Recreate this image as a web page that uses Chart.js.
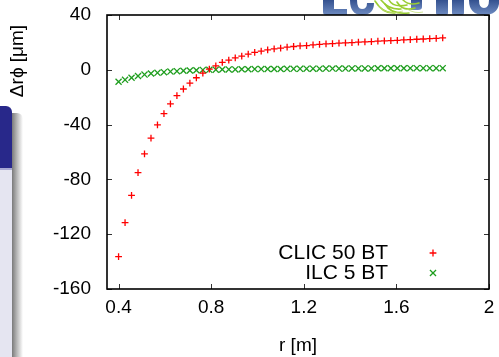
<!DOCTYPE html>
<html>
<head>
<meta charset="utf-8">
<script src="https://cdn.jsdelivr.net/npm/chart.js@4/dist/chart.umd.min.js"></script>
<style>
  html, body { margin: 0; padding: 0; background: #fff; }
  #wrap { position: relative; width: 499px; height: 357px; overflow: hidden; background: #fff; }
  #wrap canvas { position: absolute; left: 0; top: 0; }
  .bar { position: absolute; left: 0; top: 106px; width: 12px; height: 62px; background: #28288a; border-top-right-radius: 6px; }
  .bar-edge { position: absolute; left: 0; top: 168px; width: 12px; height: 2px; background: #a9a9d4; }
  .panel { position: absolute; left: 0; top: 170px; width: 12px; height: 187px; background: #e5e5f1; }
  .shade { position: absolute; left: 12px; top: 113px; width: 11px; height: 244px;
           background: linear-gradient(to right, #7a7a7a, #b8b8b8 45%, #ffffff);
           border-top-right-radius: 6px; }
  #logo { position: absolute; left: 323px; top: 0; }
</style>
</head>
<body>
<div id="wrap">
  <div class="shade"></div>
  <div class="bar"></div>
  <div class="bar-edge"></div>
  <div class="panel"></div>
  <svg id="logo" width="176" height="16" viewBox="0 0 176 16">
    <defs>
      <linearGradient id="lg" x1="0" y1="0" x2="0" y2="1">
        <stop offset="0" stop-color="#34518f"/>
        <stop offset="1" stop-color="#6f8cc2"/>
      </linearGradient>
    </defs>
    <g fill="url(#lg)">
      <path d="M0,0 H11 V9 H24 V15 H3 Q0,15 0,12 Z"/>
      <path d="M27,0 H34 Q34,9 39,9 Q44,9 44,3 H51 Q51,15 39,15 Q27,15 27,0 Z"/>
      <path d="M88,0 H99 V7 Q99,10 95,10 H88 Z"/>
      <path d="M113,0 H125 V13 Q125,15 122,15 H116 Q113,15 113,13 Z"/>
      <path d="M129,0 H141 V13 Q141,15 138,15 H132 Q129,15 129,13 Z"/>
      <path d="M146,0 H156 Q156,8 161,8 Q166,8 166,0 H176 V4 Q174,15 161,15 Q146,15 146,0 Z"/>
    </g>
    <g fill="none" stroke="#9acd32" stroke-width="1.6" stroke-linecap="round">
      <path d="M52,1 Q60,14 72,13"/>
      <path d="M58,0 Q66,10 78,9"/>
      <path d="M66,0 Q70,8 84,5"/>
      <path d="M74,2 Q80,12 92,8"/>
      <path d="M62,4 Q68,15 86,13"/>
      <path d="M80,0 Q86,6 96,3"/>
    </g>
    <g fill="none" stroke="#c4e07a" stroke-width="0.8">
      <path d="M55,6 Q64,16 80,11"/>
      <path d="M84,9 Q92,14 100,12"/>
    </g>
  </svg>
  <canvas id="chart" width="499" height="357"></canvas>
</div>
<script>
// Radial position of each sample point, in metres
const radii = [
  0.400, 0.428, 0.456, 0.484, 0.512, 0.540, 0.568, 0.596, 0.624, 0.652,
  0.680, 0.708, 0.736, 0.764, 0.792, 0.820, 0.848, 0.876, 0.904, 0.932,
  0.960, 0.988, 1.016, 1.044, 1.072, 1.100, 1.128, 1.156, 1.184, 1.212,
  1.240, 1.268, 1.296, 1.324, 1.352, 1.380, 1.408, 1.436, 1.464, 1.492,
  1.520, 1.548, 1.576, 1.604, 1.632, 1.660, 1.688, 1.716, 1.744, 1.772,
  1.800
];

// Δrϕ shift in µm, CLIC detector with 50 BT field integral
const clicShift = [
  -136.4, -111.5, -91.6, -75.0, -61.3, -49.9, -40.2, -32.0, -24.9, -18.9,
  -14.0, -9.7, -5.8, -2.4, 0.5, 2.9, 5.4, 7.1, 8.7, 10.0,
  11.4, 12.7, 13.6, 14.5, 15.3, 15.8, 16.5, 17.0, 17.5, 17.7,
  18.2, 18.6, 18.9, 19.1, 19.4, 19.7, 19.9, 20.2, 20.4, 20.6,
  20.9, 21.1, 21.3, 21.5, 21.8, 22.0, 22.3, 22.5, 22.8, 23.0,
  23.3
];

// Δrϕ shift in µm, ILC detector with 5 BT field integral
const ilcShift = [
  -8.7, -7.3, -5.8, -4.5, -3.5, -2.7, -2.2, -1.7, -1.3, -1.0,
  -0.7, -0.5, -0.3, -0.1, 0.0, 0.1, 0.2, 0.3, 0.3, 0.4,
  0.4, 0.5, 0.5, 0.6, 0.6, 0.6, 0.7, 0.7, 0.7, 0.8,
  0.8, 0.8, 0.9, 0.9, 0.9, 0.9, 1.0, 1.0, 1.0, 1.0,
  1.1, 1.1, 1.1, 1.1, 1.1, 1.2, 1.2, 1.2, 1.2, 1.2,
  1.2
];

const seriesNames = ['CLIC 50 BT', 'ILC 5 BT'];
const xTickValues = [0.4, 0.8, 1.2, 1.6, 2];
const yTickValues = [-160, -120, -80, -40, 0, 40];

const FONT = "'Liberation Sans', Arial, Helvetica, sans-serif";
Chart.defaults.font.family = FONT;
Chart.defaults.color = '#000';

const toPoints = ys => radii.map((r, i) => ({ x: r, y: ys[i] }));

// Closed frame with inward tick marks on all four sides
const framePlugin = {
  id: 'frame',
  afterDatasetsDraw(chart) {
    const { ctx, chartArea: a, scales } = chart;
    const tick = 5;
    ctx.save();
    ctx.strokeStyle = '#333';
    ctx.lineWidth = 1;
    ctx.beginPath();
    xTickValues.forEach(v => {
      const px = Math.round(scales.x.getPixelForValue(v)) + 0.5;
      ctx.moveTo(px, a.bottom); ctx.lineTo(px, a.bottom - tick);
      ctx.moveTo(px, a.top); ctx.lineTo(px, a.top + tick);
    });
    yTickValues.forEach(v => {
      const py = Math.round(scales.y.getPixelForValue(v)) + 0.5;
      ctx.moveTo(a.left, py); ctx.lineTo(a.left + tick, py);
      ctx.moveTo(a.right, py); ctx.lineTo(a.right - tick, py);
    });
    ctx.stroke();
    ctx.strokeStyle = '#000';
    ctx.lineWidth = 1.6;
    ctx.strokeRect(a.left, a.top, a.right - a.left, a.bottom - a.top);
    ctx.restore();
  }
};

// Key in the lower right corner: label right-aligned, marker sample to its right
const keyPlugin = {
  id: 'key',
  afterDraw(chart) {
    const { ctx, chartArea: a } = chart;
    ctx.save();
    ctx.font = '21px ' + FONT;
    ctx.fillStyle = '#000';
    ctx.textAlign = 'right';
    ctx.textBaseline = 'middle';
    chart.data.datasets.forEach((ds, i) => {
      const y = a.bottom - 36 + i * 20;
      ctx.fillText(ds.label, a.right - 101, y);
      ctx.strokeStyle = ds.borderColor;
      ctx.lineWidth = ds.borderWidth;
      Chart.helpers.drawPoint(ctx, {
        pointStyle: ds.pointStyle, radius: ds.pointRadius,
        borderWidth: ds.borderWidth, rotation: 0
      }, a.right - 56, y);
    });
    ctx.restore();
  }
};

// Vertical axis caption, placed near the top of the left margin
const yCaptionPlugin = {
  id: 'yCaption',
  afterDraw(chart) {
    const { ctx } = chart;
    ctx.save();
    ctx.translate(17.5, 61);
    ctx.rotate(-Math.PI / 2);
    ctx.font = '19px ' + FONT;
    ctx.fillStyle = '#000';
    ctx.textAlign = 'center';
    ctx.textBaseline = 'middle';
    ctx.fillText('\u0394r\u03D5 [\u03BCm]', 0, 0);
    ctx.restore();
  }
};

// White plotting area
const plotBgPlugin = {
  id: 'plotBg',
  beforeDatasetsDraw(chart) {
    const { ctx, chartArea: a } = chart;
    ctx.save();
    ctx.fillStyle = '#fff';
    ctx.fillRect(a.left, a.top, a.right - a.left, a.bottom - a.top);
    ctx.restore();
  }
};

new Chart(document.getElementById('chart'), {
  type: 'scatter',
  data: {
    datasets: [
      {
        label: seriesNames[0],
        data: toPoints(clicShift),
        pointStyle: 'cross',
        pointRadius: 3.4,
        borderColor: '#ff0000',
        backgroundColor: '#ff0000',
        borderWidth: 1.3,
        showLine: false
      },
      {
        label: seriesNames[1],
        data: toPoints(ilcShift),
        pointStyle: 'crossRot',
        pointRadius: 4.3,
        borderColor: '#1f9e1f',
        backgroundColor: '#1f9e1f',
        borderWidth: 1.3,
        showLine: false
      }
    ]
  },
  options: {
    responsive: false,
    animation: false,
    devicePixelRatio: 1,
    layout: { padding: { top: 15, right: 10, bottom: 0, left: 0 } },
    plugins: {
      legend: { display: false },
      tooltip: { enabled: false }
    },
    elements: { point: { hoverRadius: 0 } },
    scales: {
      x: {
        type: 'linear',
        min: 0.35,
        max: 2.0,
        afterBuildTicks: s => { s.ticks = xTickValues.map(v => ({ value: v })); },
        afterFit: s => { s.height = 68; s.paddingLeft = 0; s.paddingRight = 0; },
        ticks: {
          font: { size: 19 },
          color: '#000',
          padding: 7,
          maxRotation: 0,
          callback: v => String(v)
        },
        grid: { display: false, drawTicks: false },
        border: { display: false },
        title: {
          display: true,
          text: 'r [m]',
          font: { size: 19 },
          color: '#000',
          padding: { top: 0, bottom: 0 }
        }
      },
      y: {
        type: 'linear',
        min: -160,
        max: 40,
        afterBuildTicks: s => { s.ticks = yTickValues.map(v => ({ value: v })); },
        afterFit: s => { s.width = 107; s.paddingTop = 0; s.paddingBottom = 0; },
        ticks: {
          font: { size: 19 },
          color: '#000',
          padding: 16,
          callback: v => String(v)
        },
        grid: { display: false, drawTicks: false },
        border: { display: false }
      }
    }
  },
  plugins: [plotBgPlugin, framePlugin, keyPlugin, yCaptionPlugin]
});
</script>
</body>
</html>
